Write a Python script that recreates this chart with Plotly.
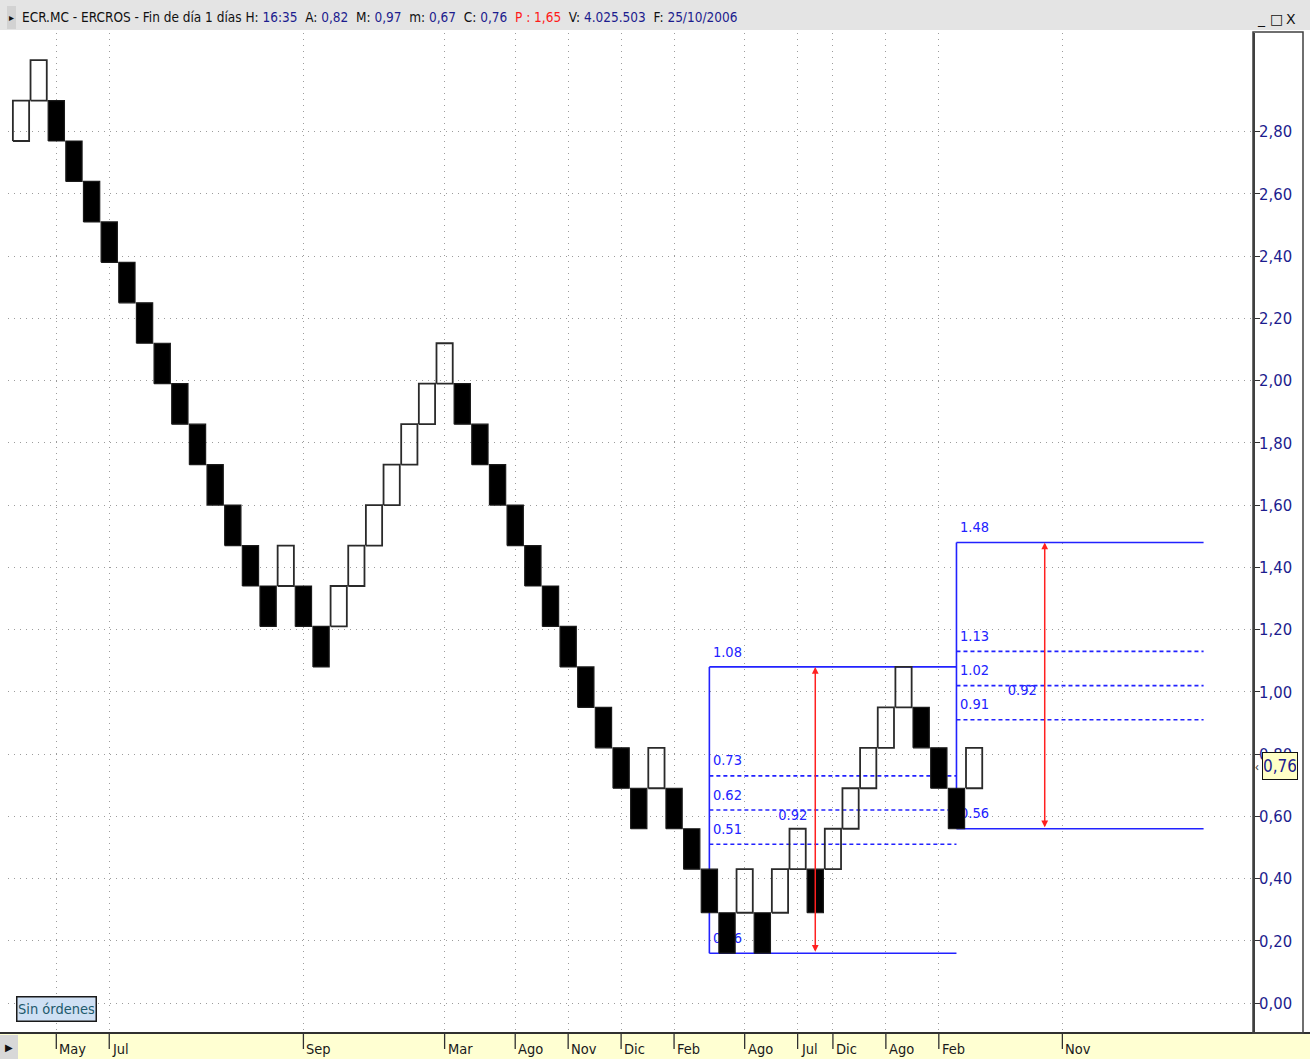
import plotly.graph_objects as go

# ---------------- data ----------------
brick_open = [2.77, 2.90, 2.90, 2.77, 2.64, 2.51, 2.38, 2.25, 2.12, 1.99,
              1.86, 1.73, 1.60, 1.47, 1.34, 1.34, 1.34, 1.21, 1.21, 1.34,
              1.47, 1.60, 1.73, 1.86, 1.99, 1.99, 1.86, 1.73, 1.60, 1.47,
              1.34, 1.21, 1.08, 0.95, 0.82, 0.69, 0.69, 0.69, 0.56, 0.43,
              0.29, 0.29, 0.29, 0.29, 0.43, 0.43, 0.43, 0.56, 0.69, 0.82,
              0.95, 0.95, 0.82, 0.69, 0.69]
brick_close = [2.90, 3.03, 2.77, 2.64, 2.51, 2.38, 2.25, 2.12, 1.99, 1.86,
               1.73, 1.60, 1.47, 1.34, 1.21, 1.47, 1.21, 1.08, 1.34, 1.47,
               1.60, 1.73, 1.86, 1.99, 2.12, 1.86, 1.73, 1.60, 1.47, 1.34,
               1.21, 1.08, 0.95, 0.82, 0.69, 0.56, 0.82, 0.56, 0.43, 0.29,
               0.16, 0.43, 0.16, 0.43, 0.56, 0.29, 0.56, 0.69, 0.82, 0.95,
               1.08, 0.82, 0.69, 0.56, 0.82]

date_tick_pos = [2, 5, 16, 24, 28, 31, 34, 37, 41, 44, 46, 49, 52, 59]
date_tick_labels = ["May", "Jul", "Sep", "Mar", "Ago", "Nov", "Dic", "Feb",
                    "Ago", "Jul", "Dic", "Ago", "Feb", "Nov"]

price_ticks = [0.0, 0.2, 0.4, 0.6, 0.8, 1.0, 1.2, 1.4, 1.6, 1.8, 2.0, 2.2, 2.4, 2.6, 2.8]
price_tick_labels = ["0,00", "0,20", "0,40", "0,60", "0,80", "1,00", "1,20", "1,40",
                     "1,60", "1,80", "2,00", "2,20", "2,40", "2,60", "2,80"]

# Fibonacci retracement study
retr_start, retr_end = 39, 53
retr_low, retr_high = 0.16, 1.08
retr_levels = [0.73, 0.62, 0.51]
retr_arrow_x = 45
# Fibonacci projection study
proj_start, proj_end = 53, 67
proj_base, proj_target = 0.56, 1.48
proj_levels = [1.13, 1.02, 0.91]
proj_arrow_x = 58
swing_label = "0.92"

last_price = 0.76
last_price_label = "0,76"

header_parts = [("ECR.MC - ERCROS - Fin de día 1 días H: ", "k"), ("16:35", "v"),
                ("  A: ", "k"), ("0,82", "v"), ("  M: ", "k"), ("0,97", "v"),
                ("  m: ", "k"), ("0,67", "v"), ("  C: ", "k"), ("0,76", "v"),
                ("  P : 1,65", "r"), ("  V: ", "k"), ("4.025.503", "v"),
                ("  F: ", "k"), ("25/10/2006", "v")]

# ---------------- style ----------------
W, H = 1310, 1059
NARROW = "DejaVu Sans Condensed, Liberation Sans Narrow, Liberation Sans, Arial"
NAVY = "#1c1c8e"
BLUE = "#2222ff"
RED = "#ff2020"
GRID = "#9c9c9c"

def px(x):
    return x / W

def py(y):
    return 1 - y / H

# plot-area frame (pixels)
PL, PR, PT, PB = 8, 1253, 33, 1033
x_range = [-0.7365, 69.80]
y_range = [-0.0964, 3.1170]

fig = go.Figure()

# ---- study lines (drawn first, under the bricks) ----
sx, sy = [], []
sx += [retr_start, retr_start, None]; sy += [retr_low, retr_high, None]
for lv in (retr_high, retr_low):
    sx += [retr_start, retr_end, None]; sy += [lv, lv, None]
sx += [proj_start, proj_start, None]; sy += [proj_base, proj_target, None]
for lv in (proj_target, proj_base):
    sx += [proj_start, proj_end, None]; sy += [lv, lv, None]
fig.add_trace(go.Scatter(x=sx, y=sy, mode="lines", line=dict(color=BLUE, width=1.6),
                         hoverinfo="skip", showlegend=False))

dx, dy = [], []
for lv in retr_levels:
    dx += [retr_start, retr_end, None]; dy += [lv, lv, None]
for lv in proj_levels:
    dx += [proj_start, proj_end, None]; dy += [lv, lv, None]
fig.add_trace(go.Scatter(x=dx, y=dy, mode="lines",
                         line=dict(color=BLUE, width=1.6, dash="4px,3px"),
                         hoverinfo="skip", showlegend=False))

# level labels
lab_off = 0.045
r_vals = [retr_high] + retr_levels + [retr_low]
p_vals = [proj_target] + proj_levels + [proj_base]
fig.add_trace(go.Scatter(
    x=[retr_start + 0.2] * len(r_vals) + [proj_start + 0.2] * len(p_vals),
    y=[v + lab_off for v in r_vals + p_vals],
    text=[f"{v:.2f}" for v in r_vals + p_vals],
    mode="text", textposition="middle right",
    textfont=dict(family=NARROW, size=14.5, color=BLUE),
    hoverinfo="skip", showlegend=False))
fig.add_trace(go.Scatter(
    x=[retr_arrow_x - 0.45, proj_arrow_x - 0.45],
    y=[(retr_low + retr_high) / 2 - 0.02, (proj_base + proj_target) / 2 - 0.02],
    text=[swing_label, swing_label],
    mode="text", textposition="middle left",
    textfont=dict(family=NARROW, size=14.5, color=BLUE),
    hoverinfo="skip", showlegend=False))

# ---- renko bricks ----
hw = 0.46
ux, uy, dnx, dny = [], [], [], []
for i, (o, c) in enumerate(zip(brick_open, brick_close)):
    lo, hi = min(o, c), max(o, c)
    xs = [i - hw, i + hw, i + hw, i - hw, i - hw, None]
    ys = [lo, lo, hi, hi, lo, None]
    if c > o:
        ux += xs; uy += ys
    else:
        dnx += xs; dny += ys
fig.add_trace(go.Scatter(x=ux, y=uy, mode="lines", line=dict(color="#2a2a2a", width=1.8),
                         hoverinfo="skip", showlegend=False))
fig.add_trace(go.Scatter(x=dnx, y=dny, mode="lines", fill="toself", fillcolor="#000000",
                         line=dict(color="#1a1a1a", width=1.2),
                         hoverinfo="skip", showlegend=False))

# ---- annotations ----
ann = []
for ax_x, lo, hi in ((retr_arrow_x, retr_low, retr_high), (proj_arrow_x, proj_base, proj_target)):
    ann.append(dict(x=ax_x, y=hi, ax=ax_x, ay=lo, xref="x", yref="y", axref="x", ayref="y",
                    text="", showarrow=True, arrowside="end+start", arrowhead=2,
                    arrowsize=0.9, arrowwidth=1.5, arrowcolor=RED))

# header text
htxt = ""
for t, c in header_parts:
    col = {"k": "#111111", "v": NAVY, "r": "#ff1a1a"}[c]
    htxt += f"<span style='color:{col}'>{t}</span>"
ann.append(dict(x=px(20), y=py(17), xref="paper", yref="paper", xanchor="left", yanchor="middle",
                text=htxt, showarrow=False, font=dict(family=NARROW, size=13.5)))
# small window glyphs
ann.append(dict(x=px(11.5), y=py(17), xref="paper", yref="paper", text="▸", showarrow=False,
                xanchor="center", yanchor="middle", font=dict(size=10, color="#111")))
for gx, g in ((1261, "_"), (1276, "□"), (1291, "X")):
    ann.append(dict(x=px(gx), y=py(19), xref="paper", yref="paper", text=g, showarrow=False,
                    xanchor="center", yanchor="middle",
                    font=dict(family="DejaVu Sans, Arial", size=14, color="#111")))

# date labels in the bottom strip
for tp, tl in zip(date_tick_pos, date_tick_labels):
    ann.append(dict(x=tp, y=py(1039), xref="x", yref="paper", xanchor="left", yanchor="top",
                    xshift=1, text=tl, showarrow=False,
                    font=dict(family=NARROW, size=14.5, color="#1a1a1a")))
ann.append(dict(x=px(9), y=py(1047), xref="paper", yref="paper", text="▶", showarrow=False,
                xanchor="center", yanchor="middle", font=dict(size=10, color="#111")))

# "Sin órdenes" tag
ann.append(dict(x=px(56), y=py(1008.5), xref="paper", yref="paper", text="Sin órdenes",
                xanchor="center", yanchor="middle",
                showarrow=False, bgcolor="#cfe0f4", bordercolor="#1a1a1a", borderwidth=1.5,
                borderpad=1, width=76, height=21,
                font=dict(family=NARROW, size=14.5, color="#1d5a6c")))

# last price marker
ann.append(dict(x=px(1279.5), y=last_price, xref="paper", yref="y", text=last_price_label,
                xanchor="center", yanchor="middle",
                showarrow=False, bgcolor="#ffffc6", bordercolor="#111", borderwidth=1,
                borderpad=1, width=32, height=24,
                font=dict(family=NARROW, size=17, color=NAVY)))
ann.append(dict(x=px(1257), y=last_price, xref="paper", yref="y", xanchor="center",
                yanchor="middle", text="‹", showarrow=False, font=dict(size=13, color="#444")))

# ---- chrome shapes ----
shapes = [
    dict(type="rect", xref="paper", yref="paper", x0=0, x1=1, y0=py(30), y1=1,
         fillcolor="#e4e4e4", line=dict(width=0), layer="below"),
    dict(type="rect", xref="paper", yref="paper", x0=px(7), x1=px(16), y0=py(29), y1=py(6),
         fillcolor="#d2d2d2", line=dict(width=0)),
    dict(type="rect", xref="paper", yref="paper", x0=0, x1=1, y0=0, y1=py(1034),
         fillcolor="#ffffd2", line=dict(width=0), layer="below"),
    dict(type="rect", xref="paper", yref="paper", x0=0, x1=px(18), y0=0, y1=py(1035),
         fillcolor="#d8d8d8", line=dict(width=0)),
    dict(type="line", xref="paper", yref="paper", x0=0, x1=1, y0=py(1033), y1=py(1033),
         line=dict(color="#303030", width=2)),
    dict(type="rect", xref="paper", yref="paper", x0=px(1253), x1=px(1303), y0=py(1033), y1=py(32),
         line=dict(color="#404040", width=1.5)),
]
for tp in date_tick_pos:
    shapes.append(dict(type="line", xref="x", yref="paper", x0=tp, x1=tp, y0=py(1034), y1=py(1049),
                       line=dict(color="#303030", width=1.3)))

fig.update_layout(
    width=W, height=H, margin=dict(l=0, r=0, t=0, b=0),
    paper_bgcolor="white", plot_bgcolor="white",
    showlegend=False, annotations=ann, shapes=shapes,
    xaxis=dict(domain=[px(PL), px(PR)], range=x_range, fixedrange=True,
               tickvals=date_tick_pos, showticklabels=False, ticks="",
               showgrid=True, gridcolor=GRID, griddash="1px,5px", gridwidth=1,
               zeroline=False, showline=False),
    yaxis=dict(domain=[py(PB), py(PT)], range=y_range, fixedrange=True, side="right",
               tickvals=price_ticks, ticktext=price_tick_labels,
               ticks="outside", ticklen=5, tickwidth=1.3, tickcolor="#303030",
               tickfont=dict(family=NARROW, size=16.5, color=NAVY),
               ticklabelstandoff=-4,
               showgrid=True, gridcolor=GRID, griddash="1px,5px", gridwidth=1,
               zeroline=False, showline=True, linecolor="#404040", linewidth=1.5),
)

fig.write_html("out.html", config={"displayModeBar": False},
               post_script="document.body.style.margin='0';document.body.style.overflow='hidden';")
